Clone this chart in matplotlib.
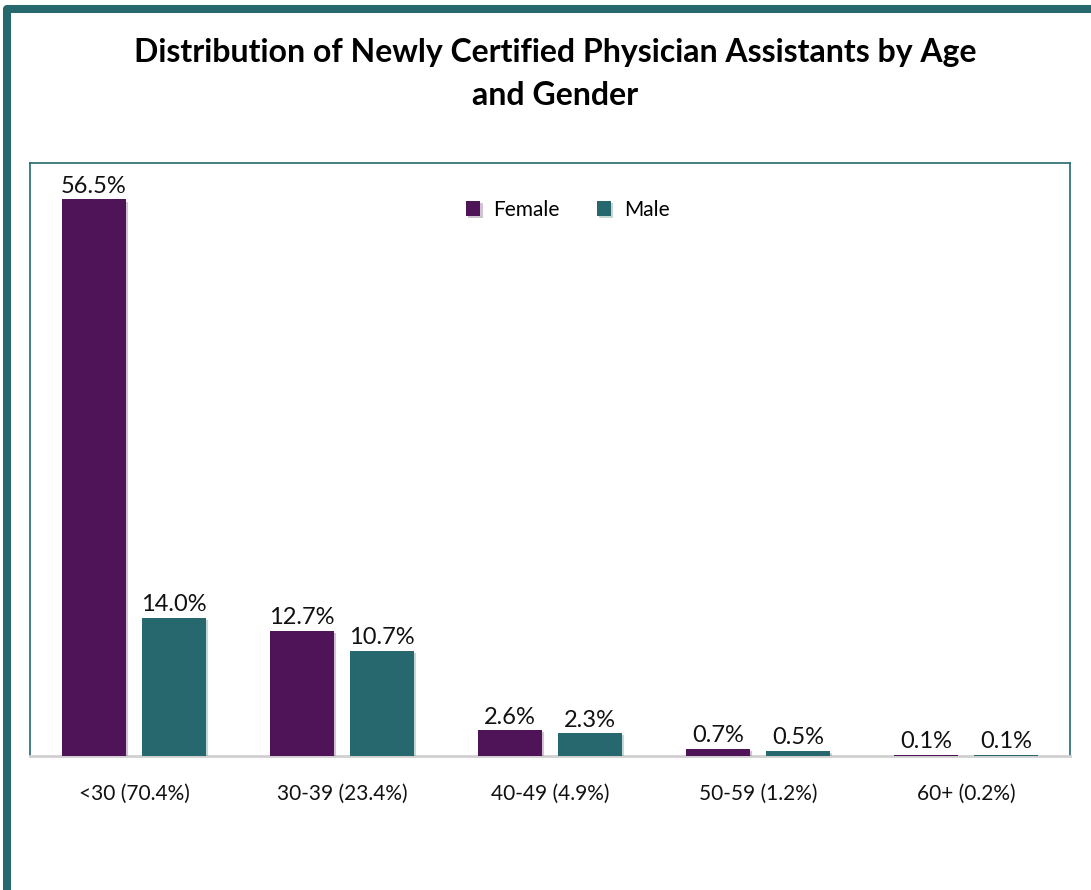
import matplotlib
matplotlib.use("Agg")
import matplotlib.pyplot as plt
import matplotlib.patheffects as pe
from matplotlib.patches import Rectangle
import numpy as np

categories = ["<30 (70.4%)", "30-39 (23.4%)", "40-49 (4.9%)", "50-59 (1.2%)", "60+ (0.2%)"]
female = [56.5, 12.7, 2.6, 0.7, 0.1]
male = [14.0, 10.7, 2.3, 0.5, 0.1]
series_names = ["Female", "Male"]

PURPLE = "#4E1457"
TEAL = "#26686D"

plt.rcParams["font.family"] = ["Lato", "DejaVu Sans"]

W, H = 1091, 890
fig = plt.figure(figsize=(W / 100, H / 100), dpi=100)

# outer frame (open on right and bottom edges of the canvas)
frame = Rectangle((7 / W, -0.2), 1.3, 1 - 9 / H + 0.2, transform=fig.transFigure,
                  fill=False, edgecolor=TEAL, linewidth=5.8, joinstyle="round")
fig.patches.append(frame)

ax = fig.add_axes([30 / W, 1 - 756 / H, (1070 - 30) / W, (756 - 163) / H])
x = np.arange(len(categories))
bw = 0.308
off = 0.193
shadow = [pe.SimplePatchShadow(offset=(1.5, -1.5), alpha=0.25, rho=0.9), pe.Normal()]
b1 = ax.bar(x - off, female, bw, color=PURPLE, label=series_names[0], zorder=3)
b2 = ax.bar(x + off, male, bw, color=TEAL, label=series_names[1], zorder=3)
for b in list(b1) + list(b2):
    b.set_path_effects(shadow)

for bars, vals in ((b1, female), (b2, male)):
    for rect, v in zip(bars, vals):
        ax.annotate(f"{v:.1f}%", (rect.get_x() + rect.get_width() / 2, v),
                    xytext=(0, 2), textcoords="offset points", ha="center", va="bottom",
                    fontsize=17, color="#111111")

ax.set_xlim(-0.5, len(categories) - 0.5)
ax.set_ylim(0, 60.2)
ax.set_yticks([])
ax.set_xticks(x)
ax.set_xticklabels(categories, fontsize=15, color="#111111")
ax.tick_params(axis="x", length=0, pad=20)
for s in ("left", "right", "top"):
    ax.spines[s].set_color(TEAL)
    ax.spines[s].set_linewidth(1.2)
ax.spines["bottom"].set_color("#D0D0D0")
ax.spines["bottom"].set_linewidth(2)

ax.legend(loc="upper center", bbox_to_anchor=(0.517, 0.97), ncol=2, frameon=False,
          fontsize=15, handlelength=0.7, handleheight=0.7, columnspacing=1.8,
          handletextpad=0.6)

fig.text(555 / W, 1 - 74 / H, "Distribution of Newly Certified Physician Assistants by Age\nand Gender",
         ha="center", va="center", fontsize=23, fontweight="bold", linespacing=1.55,
         color="#000000")

fig.savefig("out.png", dpi=100)
